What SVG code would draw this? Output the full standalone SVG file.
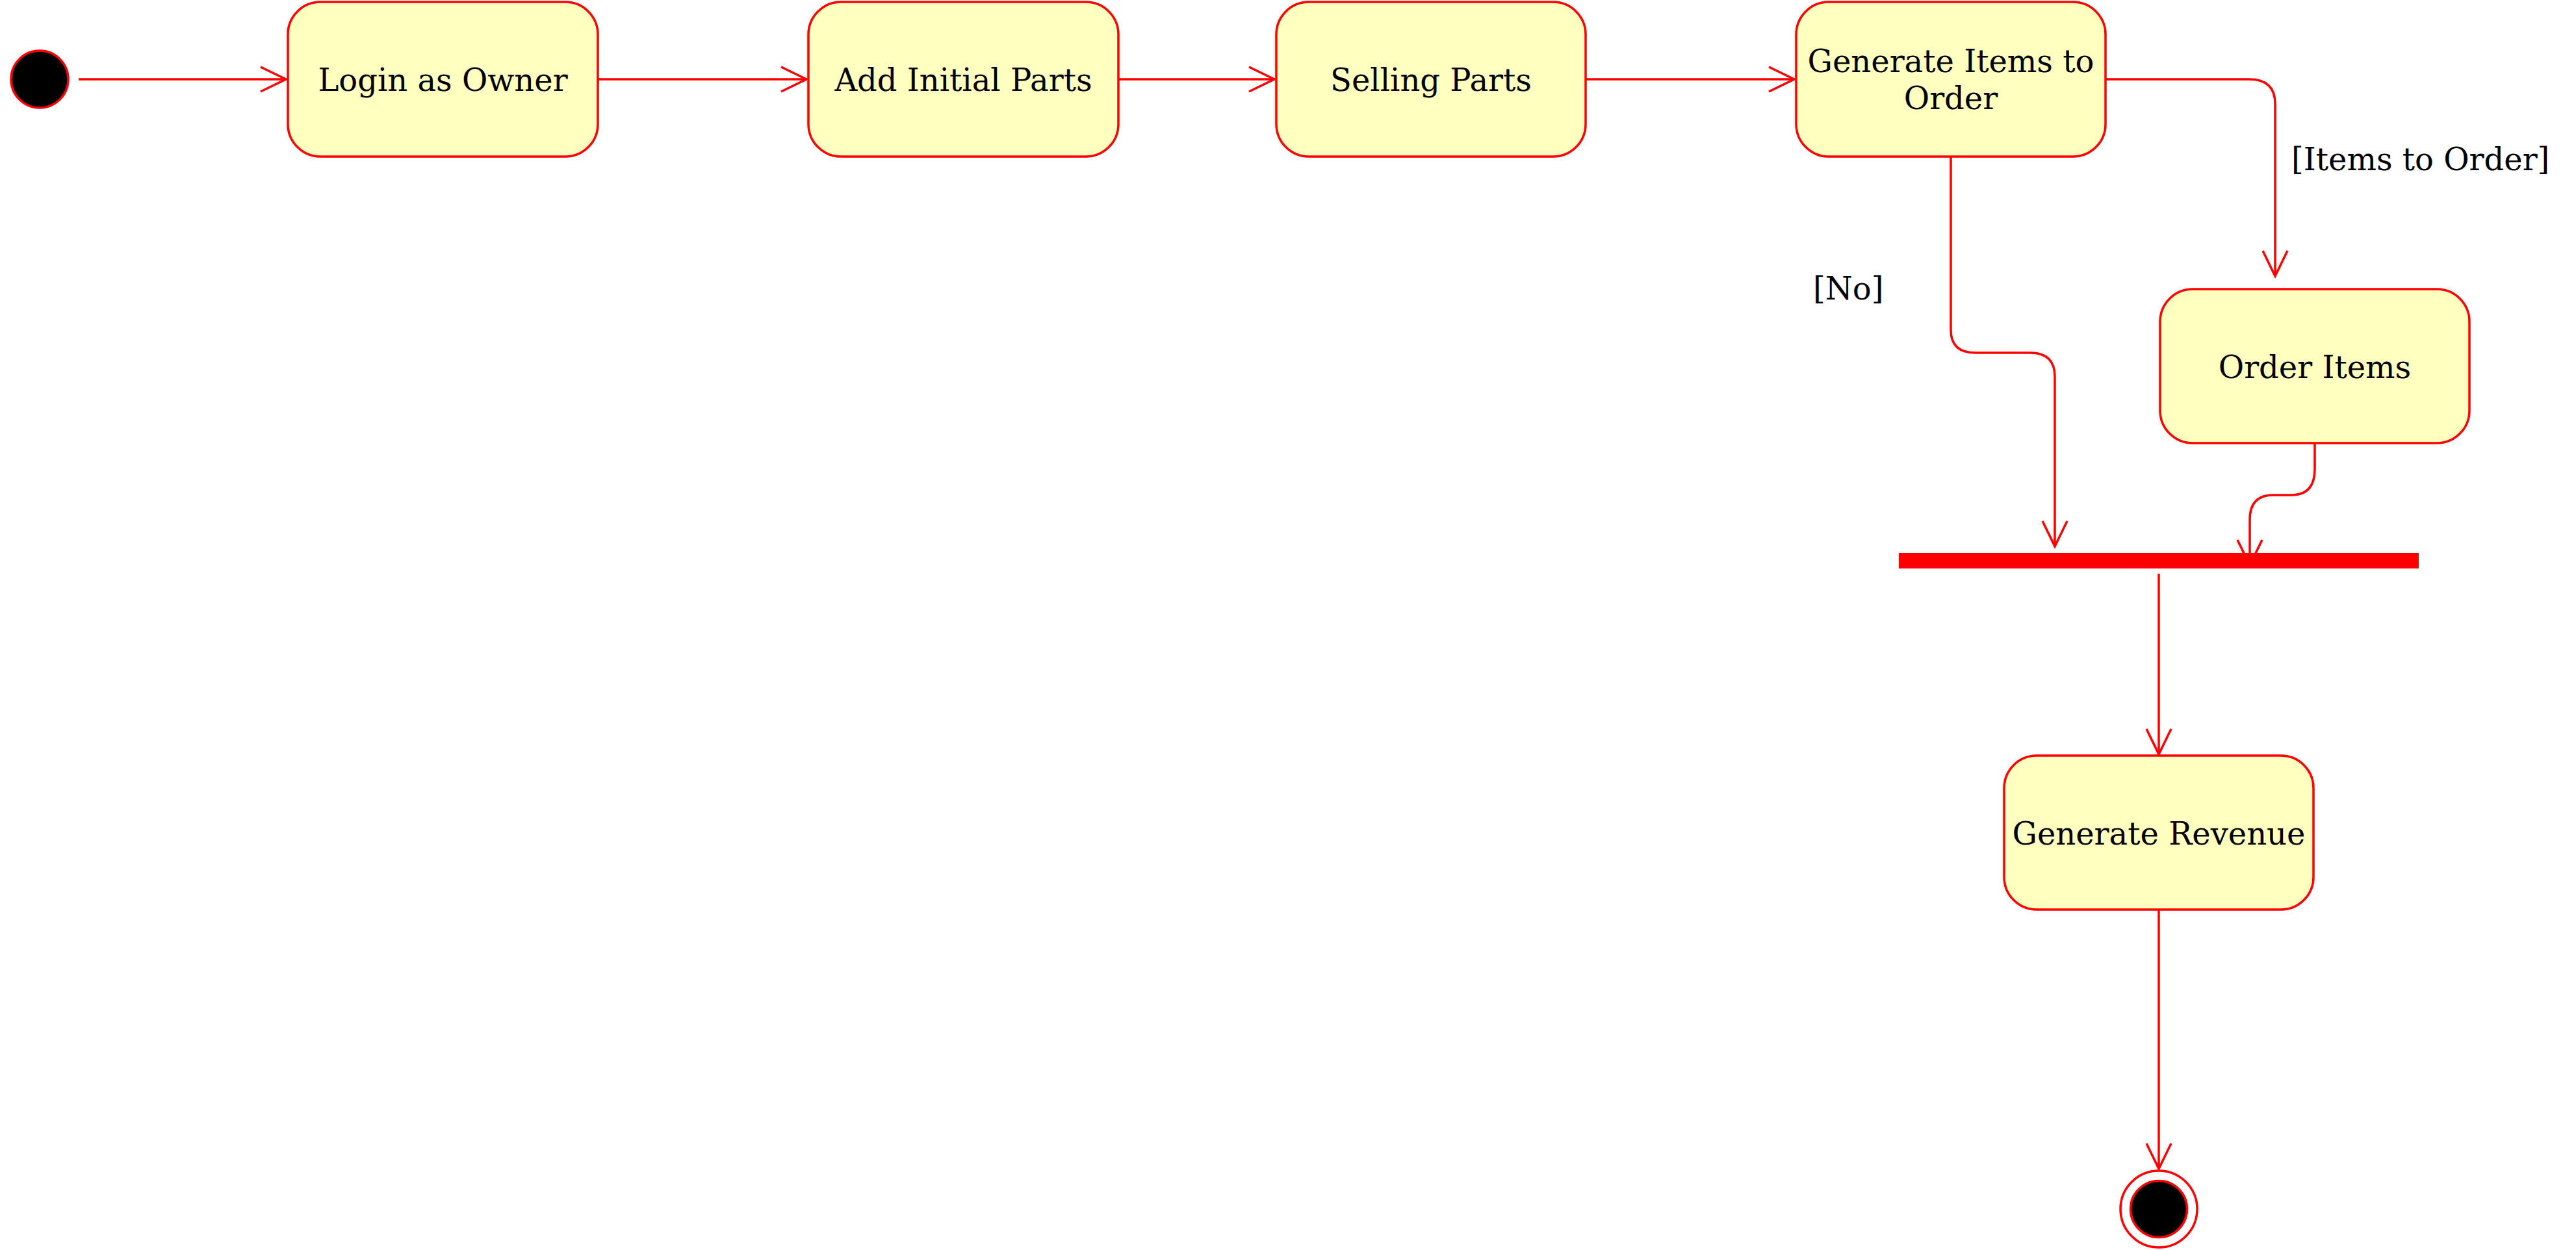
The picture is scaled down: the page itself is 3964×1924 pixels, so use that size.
<svg xmlns="http://www.w3.org/2000/svg" width="3964" height="1924" viewBox="0 0 3964 1924">
<style>
.act{fill:#FFFFC0;stroke:#FF0000;stroke-width:3.5}
.lbl{font-family:"DejaVu Serif","Liberation Serif",serif;font-size:48px;fill:#000000}
.mid{text-anchor:middle}
.con{fill:none;stroke:#FF0000;stroke-width:3.5}
</style>
<defs>
<marker id="arr" markerUnits="userSpaceOnUse" markerWidth="60" markerHeight="60" refX="40" refY="20" orient="auto" overflow="visible">
<path d="M1,1 L40,20 L1,39" fill="none" stroke="#FF0000" stroke-width="3.5"/>
</marker>
</defs>
<rect width="3964" height="1924" fill="#FFFFFF"/>
<g id="connectors">
<path class="con" marker-end="url(#arr)" d="M121,122 L440,122"/>
<path class="con" marker-end="url(#arr)" d="M920,122 L1241,122"/>
<path class="con" marker-end="url(#arr)" d="M1721,122 L1961,122"/>
<path class="con" marker-end="url(#arr)" d="M2440,122 L2761,122"/>
<path class="con" marker-end="url(#arr)" d="M3240,122 L3461,122 Q3501,122 3501,160 L3501,425"/>
<path class="con" marker-end="url(#arr)" d="M3002,241 L3002,508 Q3002,543 3040,543 L3124,543 Q3162,543 3162,580 L3162,841"/>
<path class="con" marker-end="url(#arr)" d="M3562,682 L3562,722 Q3562,762 3526,762 L3498,762 Q3462,762 3462,800 L3462,870"/>
<path class="con" marker-end="url(#arr)" d="M3322,883 L3322,1161"/>
<path class="con" marker-end="url(#arr)" d="M3322,1400 L3322,1799"/>
<text class="lbl" x="2790" y="461">[No]</text>
<text class="lbl" x="3526" y="262">[Items to Order]</text>
</g>
<g id="start">
<circle cx="61" cy="122" r="44" fill="#000000" stroke="#FF0000" stroke-width="3.5"/>
</g>
<g id="login">
<rect class="act" x="443" y="3" width="477" height="238" rx="50" ry="50"/>
<text class="lbl mid" x="681.5" y="140">Login as Owner</text>
</g>
<g id="addParts">
<rect class="act" x="1244" y="3" width="477" height="238" rx="50" ry="50"/>
<text class="lbl mid" x="1482.5" y="140">Add Initial Parts</text>
</g>
<g id="selling">
<rect class="act" x="1964" y="3" width="476" height="238" rx="50" ry="50"/>
<text class="lbl mid" x="2202" y="140">Selling Parts</text>
</g>
<g id="generateItems">
<rect class="act" x="2764" y="3" width="476" height="238" rx="50" ry="50"/>
<text class="lbl mid" x="3002" y="111">Generate Items to</text>
<text class="lbl mid" x="3002" y="168">Order</text>
</g>
<g id="orderItems">
<rect class="act" x="3324" y="445" width="476" height="237" rx="50" ry="50"/>
<text class="lbl mid" x="3562" y="582">Order Items</text>
</g>
<g id="join">
<rect x="2922" y="851" width="800" height="24" fill="#FF0000"/>
</g>
<g id="generateRevenue">
<rect class="act" x="3084" y="1163" width="476" height="237" rx="50" ry="50"/>
<text class="lbl mid" x="3322" y="1300">Generate Revenue</text>
</g>
<g id="end">
<circle cx="3322" cy="1861" r="59" fill="#FFFFFF" stroke="#FF0000" stroke-width="3.5"/>
<circle cx="3322" cy="1861" r="43.5" fill="#000000" stroke="#FF0000" stroke-width="3.5"/>
</g>
</svg>
